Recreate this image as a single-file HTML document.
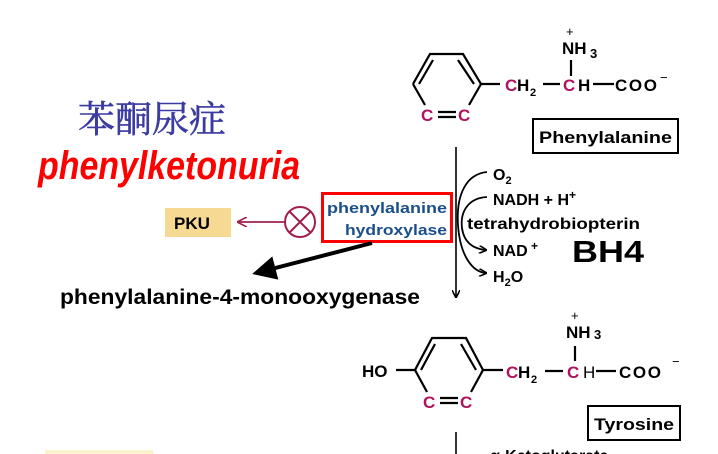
<!DOCTYPE html>
<html><head><meta charset="utf-8"><style>
html,body{margin:0;padding:0;background:#fff;width:718px;height:454px;overflow:hidden}
svg{display:block}
.b{font-family:"Liberation Sans",sans-serif;font-weight:bold}
</style></head><body>
<svg width="718" height="454" viewBox="0 0 718 454" xmlns="http://www.w3.org/2000/svg">
<defs>
<marker id="ah" markerWidth="8" markerHeight="8" refX="7" refY="4" orient="auto" markerUnits="userSpaceOnUse"><path d="M0,0 L8,4 L0,8" fill="none" stroke="#000" stroke-width="1.6"/></marker>
<marker id="ahr" markerWidth="10" markerHeight="10" refX="9" refY="5" orient="auto" markerUnits="userSpaceOnUse"><path d="M0,0 L10,5 L0,10" fill="none" stroke="#a0204a" stroke-width="1.6"/></marker>
<marker id="ahb" markerWidth="6" markerHeight="6" refX="5" refY="3" orient="auto"><path d="M0,0 L6,3 L0,6 z" fill="#000"/></marker>
</defs>
<text x="78" y="132" font-family="'Liberation Serif','Noto Serif CJK SC',serif" font-size="37" fill="#3b3ba0" stroke="#3b3ba0" stroke-width="0.5">苯酮尿症</text>
<text x="38" y="179" font-family="'Liberation Sans',sans-serif" font-weight="bold" font-style="italic" font-size="40" fill="#ff0000" textLength="262" lengthAdjust="spacingAndGlyphs">phenylketonuria</text>

<!-- Phenylalanine -->
<g stroke="#000" stroke-width="2.2" fill="none">
<path d="M413,84 L430,54 L463,54 L481,84 L469,105"/>
<path d="M413,84 L425,105"/>
<path d="M419,84 L433,60 M458,60 L474,84"/>
<path d="M481,84 L500,84 M543,84 L560,84 M571,60 L571,76 M593,84 L614,84"/>
<path d="M438,112 L456,112 M438,117 L456,117"/>
</g>
<g class="b" font-size="17">
<text x="421" y="121" fill="#b0135e">C</text><text x="458" y="121" fill="#b0135e">C</text>
<text x="505" y="91" fill="#b0135e">C</text><text x="517" y="91" fill="#000">H</text><text x="530" y="96" font-size="11">2</text>
<text x="563" y="91" fill="#b0135e">C</text><text x="578" y="91">H</text>
<text x="615" y="91" textLength="42">COO</text><text x="660" y="82" font-size="13" font-weight="normal">−</text>
<text x="562" y="54">NH</text><text x="590" y="58" font-size="13">3</text>
<text x="566" y="36" font-size="13" font-weight="normal">+</text>
</g>
<rect x="533" y="119" width="145" height="34" fill="none" stroke="#000" stroke-width="2"/>
<text x="539" y="143" class="b" font-size="17" textLength="133" lengthAdjust="spacingAndGlyphs">Phenylalanine</text>

<!-- Main arrow -->
<line x1="456" y1="147" x2="456" y2="297" stroke="#000" stroke-width="1.6" marker-end="url(#ah)"/>
<g stroke="#000" stroke-width="1.8" fill="none">
<path d="M487,172 C466,174 456,195 458,225 C460,255 472,272 486,273" marker-end="url(#ah)"/>
<path d="M487,197 C468,198 460,212 462,228 C464,243 474,249 486,250" marker-end="url(#ah)"/>
</g>
<g class="b" font-size="16">
<text x="493" y="180">O<tspan font-size="11" dy="4">2</tspan></text>
<text x="493" y="205">NADH  + H<tspan font-size="12" dy="-6">+</tspan></text>
<text x="467" y="229" textLength="173" lengthAdjust="spacingAndGlyphs">tetrahydrobiopterin</text>
<text x="493" y="256">NAD<tspan font-size="12" dy="-6"> +</tspan></text>
<text x="493" y="282">H<tspan font-size="11" dy="4">2</tspan><tspan dy="-4">O</tspan></text>
</g>
<text x="572" y="262" class="b" font-size="31" textLength="72" lengthAdjust="spacingAndGlyphs">BH4</text>

<!-- Enzyme box -->
<rect x="322.5" y="193.5" width="129" height="48" fill="#fff" stroke="#ff0000" stroke-width="3"/>
<g class="b" font-size="15" fill="#1a4f8a" text-anchor="end">
<text x="447" y="213" textLength="120" lengthAdjust="spacingAndGlyphs">phenylalanine</text>
<text x="447" y="235" textLength="102" lengthAdjust="spacingAndGlyphs">hydroxylase</text>
</g>
<circle cx="300" cy="222" r="15" fill="none" stroke="#a0204a" stroke-width="2"/>
<path d="M289.5,211.5 L310.5,232.5 M310.5,211.5 L289.5,232.5" stroke="#a0204a" stroke-width="2"/>
<line x1="285" y1="222" x2="238" y2="222" stroke="#a0204a" stroke-width="1.8" marker-end="url(#ahr)"/>
<rect x="165" y="208" width="66" height="29" fill="#f6d992"/>
<text x="174" y="229" class="b" font-size="17">PKU</text>
<line x1="372" y1="243" x2="256" y2="273" stroke="#000" stroke-width="4" marker-end="url(#ahb)"/>
<text x="60" y="304" font-family="'Liberation Sans',sans-serif" font-weight="bold" font-size="21" textLength="360" lengthAdjust="spacingAndGlyphs">phenylalanine-4-monooxygenase</text>

<!-- Tyrosine -->
<g stroke="#000" stroke-width="2.2" fill="none">
<path d="M415,370 L432,338 L466,338 L483,370 L471,392"/>
<path d="M415,370 L427,392"/>
<path d="M421,370 L435,344 M461,344 L476,370"/>
<path d="M396,370 L415,370 M483,370 L503,370 M545,371 L563,371 M575,346 L575,361 M596,371 L616,371"/>
<path d="M440,398 L458,398 M440,403 L458,403"/>
</g>
<g class="b" font-size="17">
<text x="362" y="377">HO</text>
<text x="423" y="408" fill="#b0135e">C</text><text x="460" y="408" fill="#b0135e">C</text>
<text x="506" y="378" fill="#b0135e">C</text><text x="518" y="378">H</text><text x="531" y="383" font-size="11">2</text>
<text x="567" y="378" fill="#b0135e">C</text><text x="583" y="378" font-weight="normal">H</text>
<text x="619" y="378" textLength="42">COO</text><text x="672" y="366" font-size="13" font-weight="normal">−</text>
<text x="566" y="338">NH</text><text x="594" y="339" font-size="13">3</text>
<text x="571" y="320" font-size="13" font-weight="normal">+</text>
</g>
<rect x="588" y="406" width="92" height="34" fill="none" stroke="#000" stroke-width="2"/>
<text x="594" y="430" class="b" font-size="17" textLength="80" lengthAdjust="spacingAndGlyphs">Tyrosine</text>
<line x1="456" y1="432" x2="456" y2="454" stroke="#000" stroke-width="1.6"/>
<text x="490" y="461" class="b" font-size="16">α-Ketoglutarate</text>
<rect x="45" y="450" width="108" height="4" fill="#fbf3d0"/>
</svg>
</body></html>
